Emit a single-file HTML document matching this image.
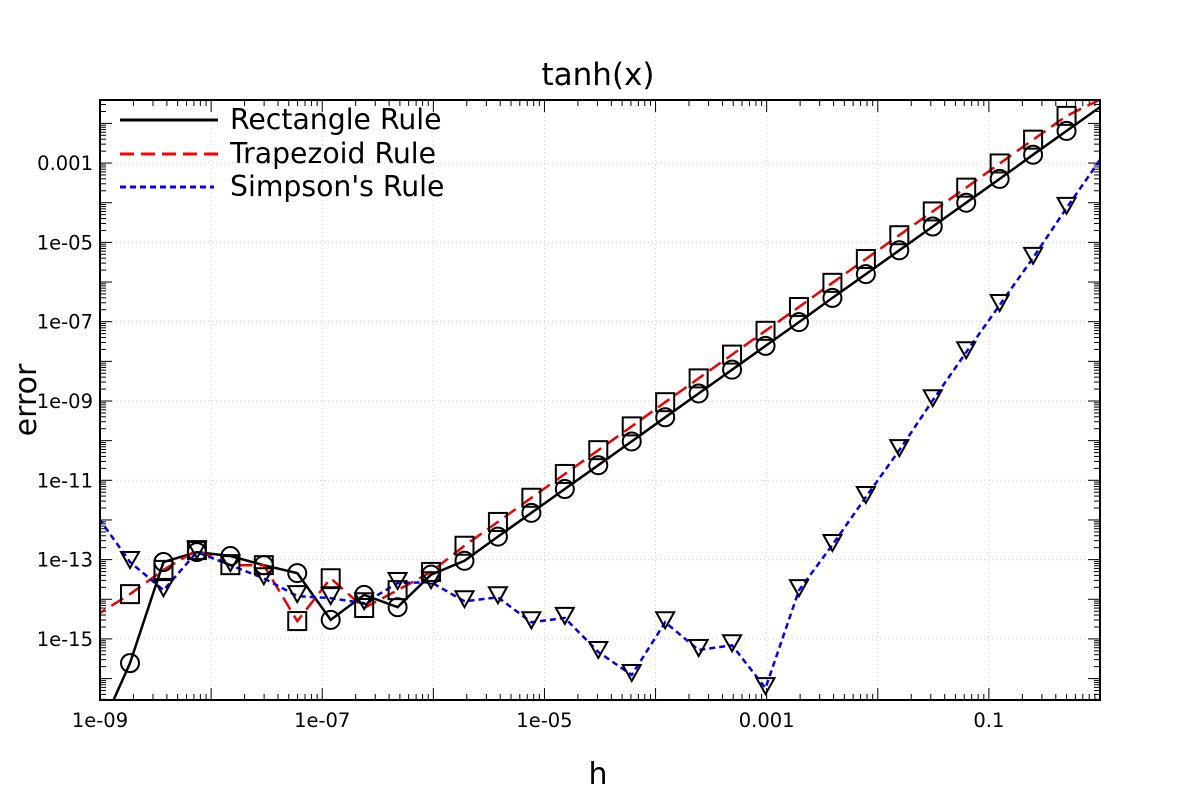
<!DOCTYPE html>
<html><head><meta charset="utf-8"><style>
body{margin:0;background:#fff}
svg{display:block;font-family:"DejaVu Sans","Liberation Sans",sans-serif}
</style></head><body>
<svg id="chart" width="1200" height="800" viewBox="0 0 1200 800" xmlns="http://www.w3.org/2000/svg">
<rect width="1200" height="800" fill="#fff"/>
<g id="grid"></g>
<g id="ticks"></g>
<g id="series" clip-path="url(#clip)"></g>
<g id="markers"></g>
<defs><clipPath id="clip"><rect x="100" y="100" width="1000" height="600"/></clipPath></defs>
<rect x="100" y="100" width="1000" height="600" fill="none" stroke="#000" stroke-width="2"/>
<text x="598" y="85" font-size="31" text-anchor="middle">tanh(x)</text>
<text x="598" y="784" font-size="30" text-anchor="middle">h</text>
<text transform="translate(36,400) rotate(-90)" font-size="30" text-anchor="middle">error</text>
<g>
<line x1="120" y1="120" x2="218" y2="120" stroke="#000" stroke-width="3"/>
<text x="230" y="129" font-size="28.3">Rectangle Rule</text>
<line x1="120" y1="154" x2="218" y2="154" stroke="#f00" stroke-width="3" stroke-dasharray="14,7"/>
<text x="230" y="163" font-size="28.3">Trapezoid Rule</text>
<line x1="120" y1="187" x2="214" y2="187" stroke="#00f" stroke-width="3" stroke-dasharray="6,4"/>
<text x="230" y="196" font-size="28.3">Simpson's Rule</text>
</g>
</svg>
<script>
// h = 2^-n, n = 0..30 ; values are log10(error)
const nValues = [0,1,2,3,4,5,6,7,8,9,10,11,12,13,14,15,16,17,18,19,20,21,22,23,24,25,26,27,28,29,30];
const rectLog = [-1.59,-2.19,-2.79,-3.40,-4.00,-4.60,-5.20,-5.80,-6.40,-7.01,-7.61,-8.21,-8.81,-9.41,-10.02,-10.62,-11.22,-11.82,-12.42,-13.03,-13.38,-14.2,-13.89,-14.52,-13.34,-13.14,-12.91,-12.81,-13.06,-15.61,-17.5];
const trapLog = [-1.4,-1.81,-2.41,-3.01,-3.62,-4.22,-4.82,-5.42,-6.02,-6.63,-7.23,-7.83,-8.43,-9.03,-9.64,-10.24,-10.84,-11.44,-12.05,-12.65,-13.31,-13.77,-14.22,-13.47,-14.55,-13.14,-13.14,-12.76,-13.26,-13.87,-14.4];
const simpLog = [-2.92,-4.13,-5.39,-6.58,-7.77,-8.98,-10.24,-11.42,-12.63,-13.77,-16.24,-15.16,-15.28,-14.58,-15.91,-15.33,-14.47,-14.58,-13.95,-14.05,-13.57,-13.59,-14.1,-13.97,-13.92,-13.47,-13.14,-12.81,-13.77,-13.06,-11.88];
const xTickLabels = ["1e-09","1e-07","1e-05","0.001","0.1"];
const xTickExp = [-9,-7,-5,-3,-1];
const yTickLabels = ["0.001","1e-05","1e-07","1e-09","1e-11","1e-13","1e-15"];
const yTickExp = [-3,-5,-7,-9,-11,-13,-15];

const NS="http://www.w3.org/2000/svg";
const X0=100,X1=1100,Y0=100,Y1=700;
const xmin=-9,xmax=0,ymin=-16.54,ymax=-1.41;
const sx=e=>X0+(e-xmin)/(xmax-xmin)*(X1-X0);
const sy=e=>Y1-(e-ymin)/(ymax-ymin)*(Y1-Y0);
const hx=n=>sx(-n*Math.LOG10E*Math.log(2));
function mk(tag,attrs,parent){const el=document.createElementNS(NS,tag);for(const k in attrs)el.setAttribute(k,attrs[k]);parent.appendChild(el);return el;}
const grid=document.getElementById('grid'),ticks=document.getElementById('ticks'),ser=document.getElementById('series'),mrk=document.getElementById('markers');

for(let e=xmin;e<=xmax;e++){
  const x=sx(e);
  if(e>xmin&&e<xmax){const g=mk('line',{x1:x,y1:Y0,x2:x,y2:Y1,stroke:'#ccc','stroke-dasharray':'1,3'},grid);
  
  }
  mk('line',{x1:x,y1:Y1,x2:x,y2:Y1-12,stroke:'#000'},ticks);
  mk('line',{x1:x,y1:Y0,x2:x,y2:Y0+12,stroke:'#000'},ticks);
  if(e<xmax)for(let m=2;m<10;m++){const xm=sx(e+Math.log10(m));
    mk('line',{x1:xm,y1:Y1,x2:xm,y2:Y1-6,stroke:'#000'},ticks);
    mk('line',{x1:xm,y1:Y0,x2:xm,y2:Y0+6,stroke:'#000'},ticks);}
}
for(let e=-17;e<=-1;e++){
  for(let m=1;m<10;m++){const v=e+Math.log10(m);if(v<ymin||v>ymax)continue;const y=sy(v);const L=m==1?12:6;
    mk('line',{x1:X0,y1:y,x2:X0+L,y2:y,stroke:'#000'},ticks);
    mk('line',{x1:X1,y1:y,x2:X1-L,y2:y,stroke:'#000'},ticks);}
}
xTickExp.forEach((e,i)=>{const t=mk('text',{x:sx(e),y:Y1+27,'font-size':19.5,'text-anchor':'middle'},ticks);t.textContent=xTickLabels[i];
  
  });
yTickExp.forEach((e,i)=>{const y=sy(e);
  const g=mk('line',{x1:X0,y1:y,x2:X1,y2:y,stroke:'#ccc','stroke-dasharray':'1,3'},grid);
  
  
  const t=mk('text',{x:X0-7,y:y+7,'font-size':19.5,'text-anchor':'end'},ticks);t.textContent=yTickLabels[i];
  
  });

function series(vals,stroke,dash,name,marker){
  const pts=nValues.map((n,i)=>hx(n).toFixed(1)+','+sy(vals[i]).toFixed(1)).join(' ');
  const p=mk('polyline',{points:pts,fill:'none',stroke:stroke,'stroke-width':2.5,'stroke-dasharray':dash},ser);
  
  
  nValues.forEach((n,i)=>{if(n<1||n>29)return;const x=hx(n),y=sy(vals[i]);if(y>Y1||y<Y0)return;let m;
    if(marker=='circle')m=mk('circle',{cx:x,cy:y,r:9,fill:'none',stroke:'#000','stroke-width':2},mrk);
    else if(marker=='square')m=mk('rect',{x:x-9,y:y-9,width:18,height:18,fill:'none',stroke:'#000','stroke-width':2},mrk);
    else m=mk('polygon',{points:`${x-9},${y-10} ${x+9},${y-10} ${x},${y+6}`,fill:'none',stroke:'#000','stroke-width':2},mrk);
    
    });
}
series(rectLog,'#000','none','rectangle-rule','circle');
series(trapLog,'#e00','14,7','trapezoid-rule','square');
series(simpLog,'#00e','6,4','simpson-rule','triangle');
</script>
</body></html>
